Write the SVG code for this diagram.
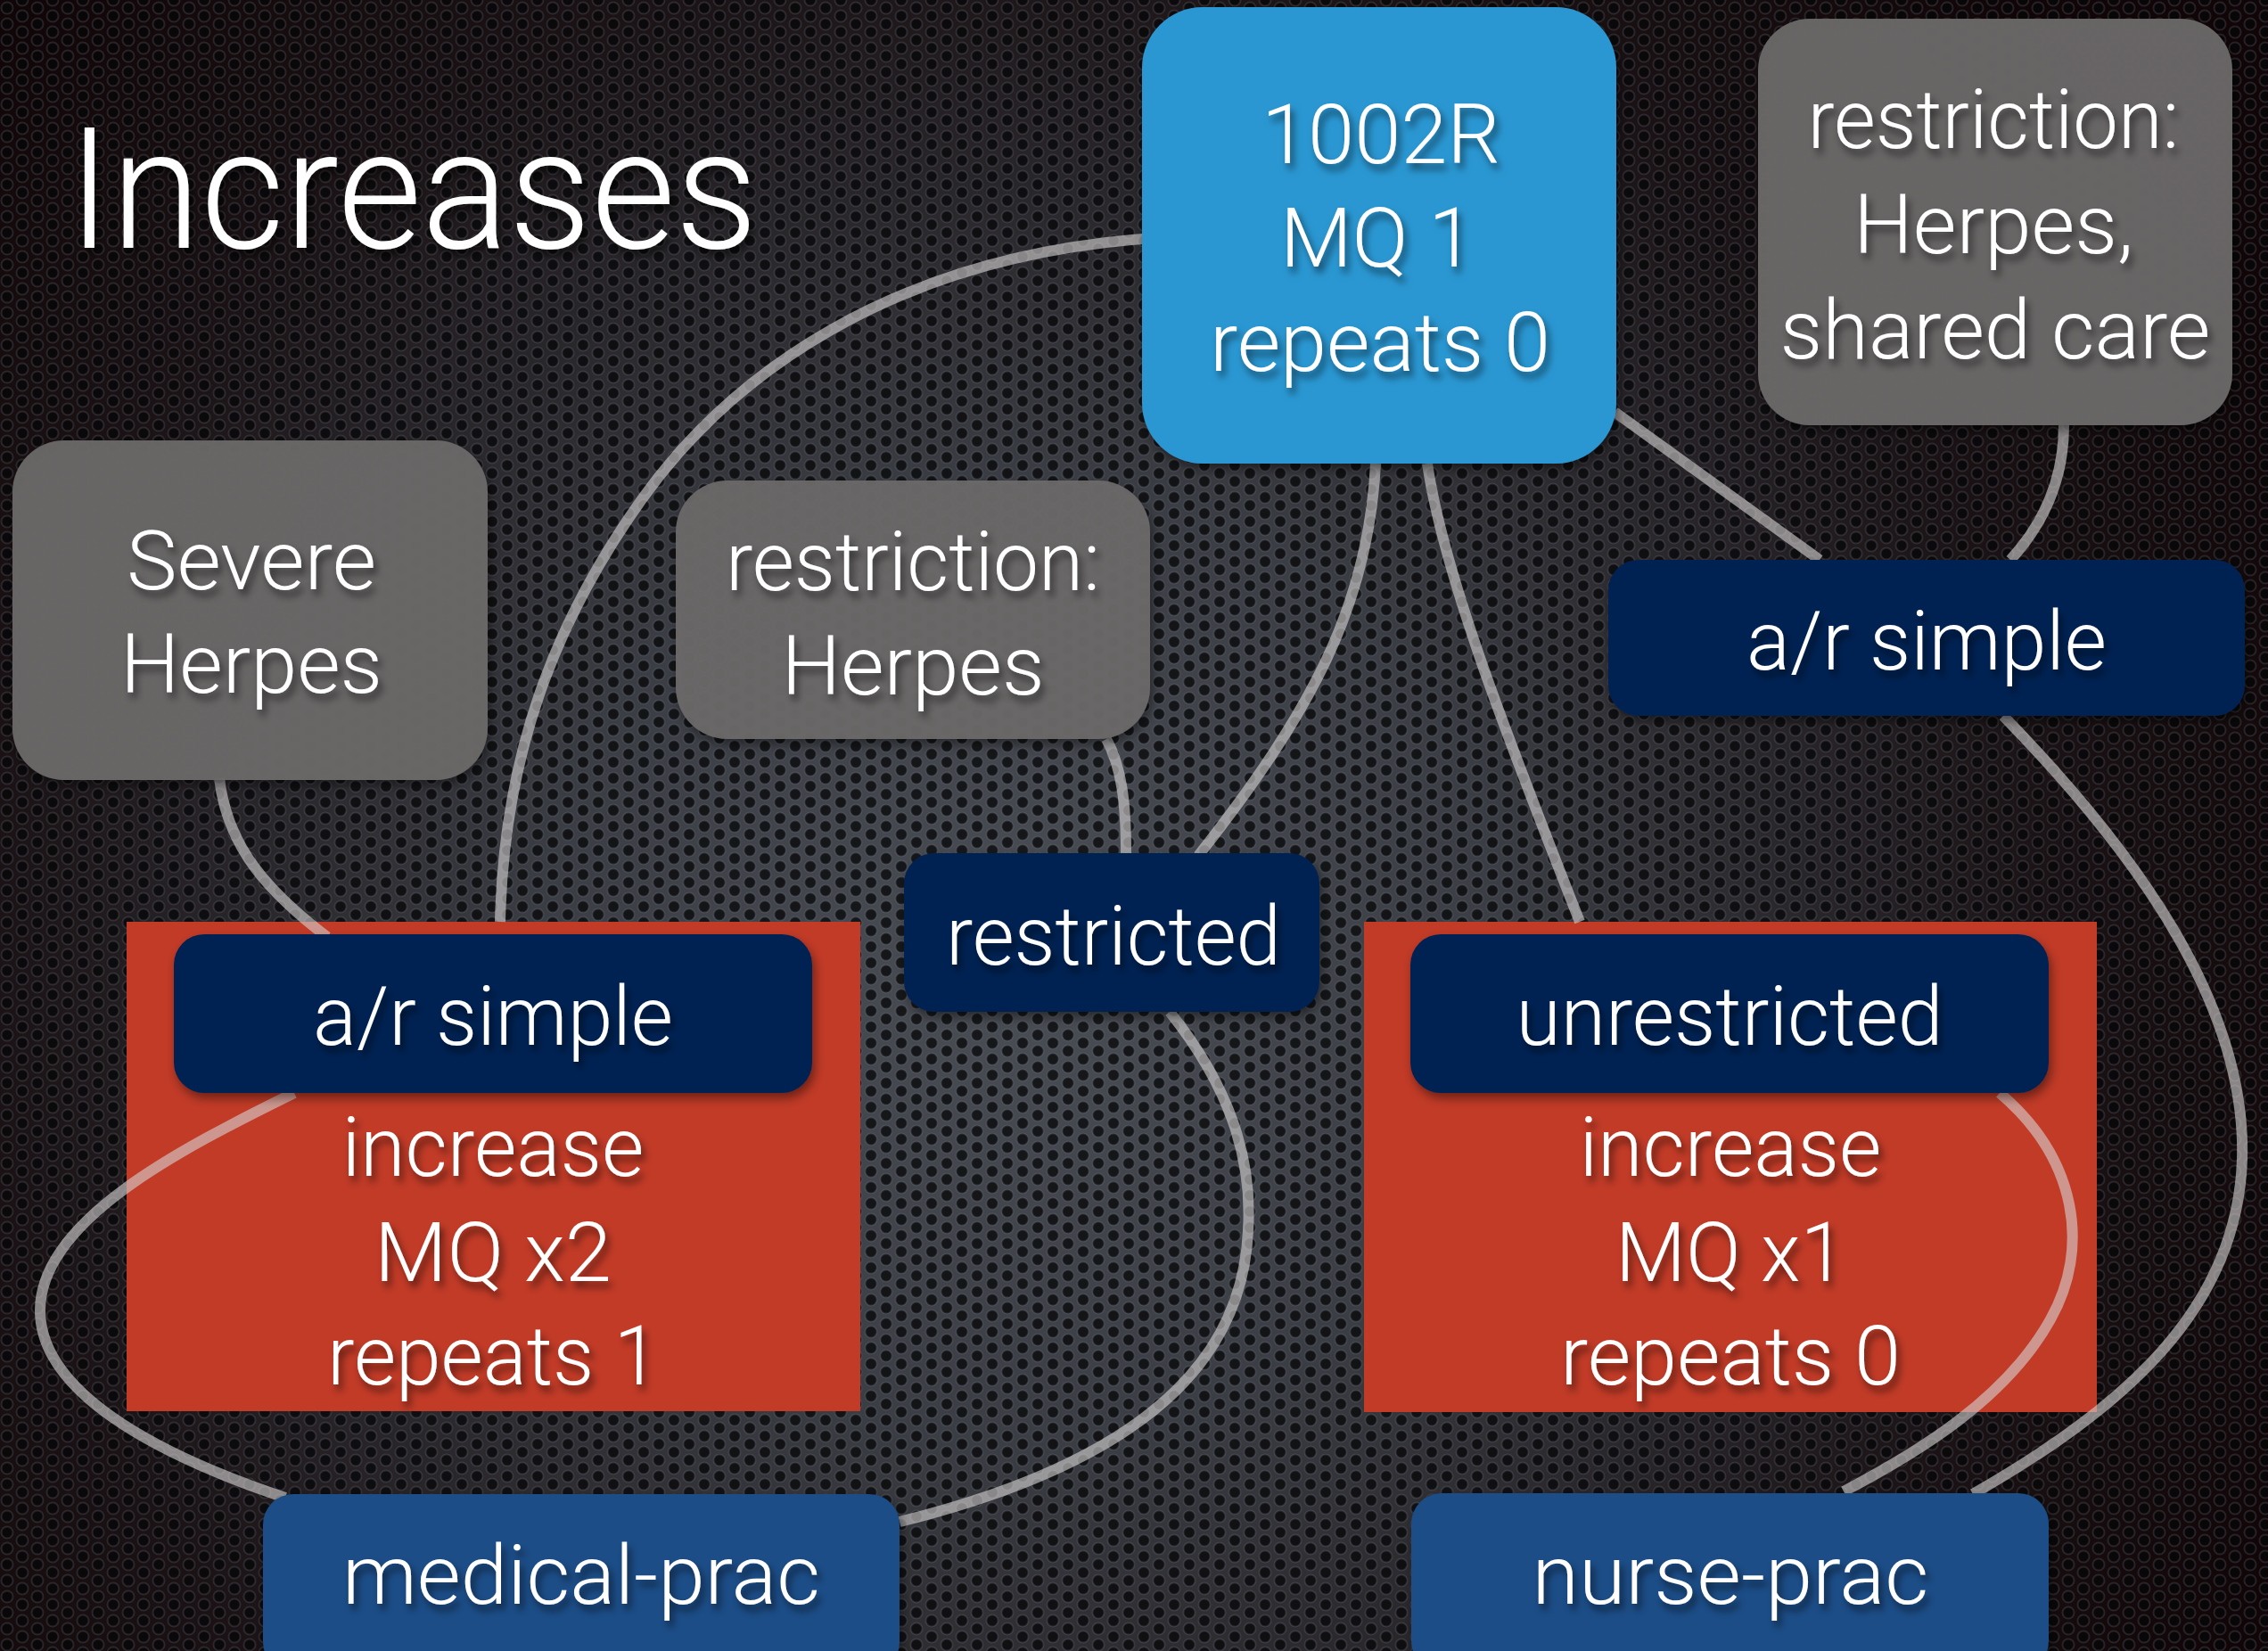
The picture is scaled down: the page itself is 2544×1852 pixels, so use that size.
<svg xmlns="http://www.w3.org/2000/svg" width="2544" height="1852" viewBox="0 0 2544 1852">
<defs>
<radialGradient id="bg" cx="1150" cy="1080" r="1550" gradientUnits="userSpaceOnUse">
<stop offset="0" stop-color="#4a4e55"/>
<stop offset="0.35" stop-color="#3a3d43"/>
<stop offset="0.75" stop-color="#1a1214"/>
<stop offset="1" stop-color="#110607"/>
</radialGradient>
<pattern id="holes" width="34" height="18" patternUnits="userSpaceOnUse">
<circle cx="8" cy="9" r="6.5" fill="#050506" fill-opacity="0.75" stroke="#7a8090" stroke-opacity="0.22" stroke-width="2"/>
<circle cx="25" cy="0" r="6.5" fill="#050506" fill-opacity="0.75" stroke="#7a8090" stroke-opacity="0.22" stroke-width="2"/>
<circle cx="25" cy="18" r="6.5" fill="#050506" fill-opacity="0.75" stroke="#7a8090" stroke-opacity="0.22" stroke-width="2"/>
</pattern>
<filter id="ts" x="-10%" y="-30%" width="125%" height="170%">
<feDropShadow dx="4" dy="7" stdDeviation="4" flood-color="#000" flood-opacity="0.55"/>
</filter>
<filter id="bs" x="-10%" y="-10%" width="125%" height="125%">
<feDropShadow dx="3" dy="6" stdDeviation="6" flood-color="#000" flood-opacity="0.45"/>
</filter>
<style>
.t{font-family:Roboto,"Liberation Sans",Arial,sans-serif;font-weight:300;font-size:93px;fill:#fff;text-anchor:middle;filter:url(#ts)}
.title{font-family:Roboto,"Liberation Sans",Arial,sans-serif;font-weight:300;font-size:190px;fill:#fff;filter:url(#ts)}
.gray{fill:#6c6969;fill-opacity:0.94;filter:url(#bs)}
.navy{fill:#042352;filter:url(#bs)}
.mid{fill:#1a4d87;filter:url(#bs)}
.red{fill:#c23b27}
.bright{fill:#2b97d2;filter:url(#bs)}
.c{fill:none;stroke:#d4d0d0;stroke-opacity:0.62;stroke-width:12}
</style>
</defs>
<rect width="2544" height="1852" fill="url(#bg)"/>
<rect width="2544" height="1852" fill="url(#holes)"/>

<g id="title">
<text class="title" x="76" y="278" textLength="774" lengthAdjust="spacingAndGlyphs">Increases</text>
</g>

<g id="box-medical-increase">
<rect class="red" x="142" y="1034" width="823" height="549"/>
<text class="t" x="553" y="1319" textLength="339" lengthAdjust="spacingAndGlyphs">increase</text>
<text class="t" x="553" y="1437" textLength="266" lengthAdjust="spacingAndGlyphs">MQ x2</text>
<text class="t" x="553" y="1553" textLength="372" lengthAdjust="spacingAndGlyphs">repeats 1</text>
</g>
<g id="box-nurse-increase">
<rect class="red" x="1530" y="1034" width="822" height="550"/>
<text class="t" x="1941" y="1319" textLength="339" lengthAdjust="spacingAndGlyphs">increase</text>
<text class="t" x="1941" y="1437" textLength="258" lengthAdjust="spacingAndGlyphs">MQ x1</text>
<text class="t" x="1941" y="1553" textLength="382" lengthAdjust="spacingAndGlyphs">repeats 0</text>
</g>

<g id="connectors">
<path class="c" d="M1282,268 C1000,290 820,420 720,560 C620,700 565,850 561,1034"/>
<path class="c" d="M246,873 C255,950 300,1000 367,1051"/>
<path class="c" d="M1543,520 C1535,680 1470,800 1344,960"/>
<path class="c" d="M1601,520 C1620,650 1700,850 1772,1034"/>
<path class="c" d="M1811,462 L2041,628"/>
<path class="c" d="M2315,477 C2315,540 2290,590 2255,628"/>
<path class="c" d="M1241,829 C1258,860 1263,900 1263,957"/>
<path class="c" d="M1312,1135 C1380,1220 1405,1300 1400,1380 C1395,1500 1320,1630 1009,1707"/>
<path class="c" d="M330,1226 C200,1290 45,1370 45,1470 C45,1570 200,1640 320,1680"/>
<path class="c" d="M2243,1226 C2330,1300 2345,1400 2300,1480 C2250,1570 2150,1630 2068,1673"/>
<path class="c" d="M2247,803 C2400,960 2520,1130 2515,1300 C2510,1470 2380,1580 2213,1676"/>
</g>

<g id="node-1002R">
<rect class="bright" x="1281" y="8" width="532" height="512" rx="68"/>
<text class="t" x="1549" y="183" textLength="268" lengthAdjust="spacingAndGlyphs">1002R</text>
<text class="t" x="1545" y="299" textLength="218" lengthAdjust="spacingAndGlyphs">MQ 1</text>
<text class="t" x="1548" y="416" textLength="382" lengthAdjust="spacingAndGlyphs">repeats 0</text>
</g>
<g id="node-restriction-shared">
<rect class="gray" x="1972" y="21" width="532" height="456" rx="58"/>
<text class="t" x="2236" y="166" textLength="417" lengthAdjust="spacingAndGlyphs">restriction:</text>
<text class="t" x="2236" y="284" textLength="314" lengthAdjust="spacingAndGlyphs">Herpes,</text>
<text class="t" x="2238" y="402" textLength="483" lengthAdjust="spacingAndGlyphs">shared care</text>
</g>
<g id="node-severe-herpes">
<rect class="gray" x="14" y="494" width="533" height="381" rx="58"/>
<text class="t" x="282" y="661" textLength="280" lengthAdjust="spacingAndGlyphs">Severe</text>
<text class="t" x="282" y="777" textLength="294" lengthAdjust="spacingAndGlyphs">Herpes</text>
</g>
<g id="node-restriction-herpes">
<rect class="gray" x="758" y="539" width="532" height="290" rx="58"/>
<text class="t" x="1024" y="662" textLength="420" lengthAdjust="spacingAndGlyphs">restriction:</text>
<text class="t" x="1024" y="779" textLength="295" lengthAdjust="spacingAndGlyphs">Herpes</text>
</g>
<g id="node-ar-simple-top">
<rect class="navy" x="1804" y="628" width="714" height="175" rx="34"/>
<text class="t" x="2161" y="751" textLength="404" lengthAdjust="spacingAndGlyphs">a/r simple</text>
</g>
<g id="node-restricted">
<rect class="navy" x="1014" y="957" width="466" height="178" rx="34"/>
<text class="t" x="1249" y="1082" textLength="376" lengthAdjust="spacingAndGlyphs">restricted</text>
</g>
<g id="node-ar-simple-left">
<rect class="navy" x="195" y="1048" width="716" height="178" rx="34"/>
<text class="t" x="553" y="1172" textLength="404" lengthAdjust="spacingAndGlyphs">a/r simple</text>
</g>
<g id="node-unrestricted">
<rect class="navy" x="1582" y="1048" width="716" height="178" rx="34"/>
<text class="t" x="1940" y="1172" textLength="479" lengthAdjust="spacingAndGlyphs">unrestricted</text>
</g>
<g id="node-medical-prac">
<rect class="mid" x="295" y="1676" width="714" height="200" rx="34"/>
<text class="t" x="652" y="1799" textLength="536" lengthAdjust="spacingAndGlyphs">medical-prac</text>
</g>
<g id="node-nurse-prac">
<rect class="mid" x="1583" y="1675" width="715" height="200" rx="34"/>
<text class="t" x="1941" y="1799" textLength="445" lengthAdjust="spacingAndGlyphs">nurse-prac</text>
</g>
</svg>
